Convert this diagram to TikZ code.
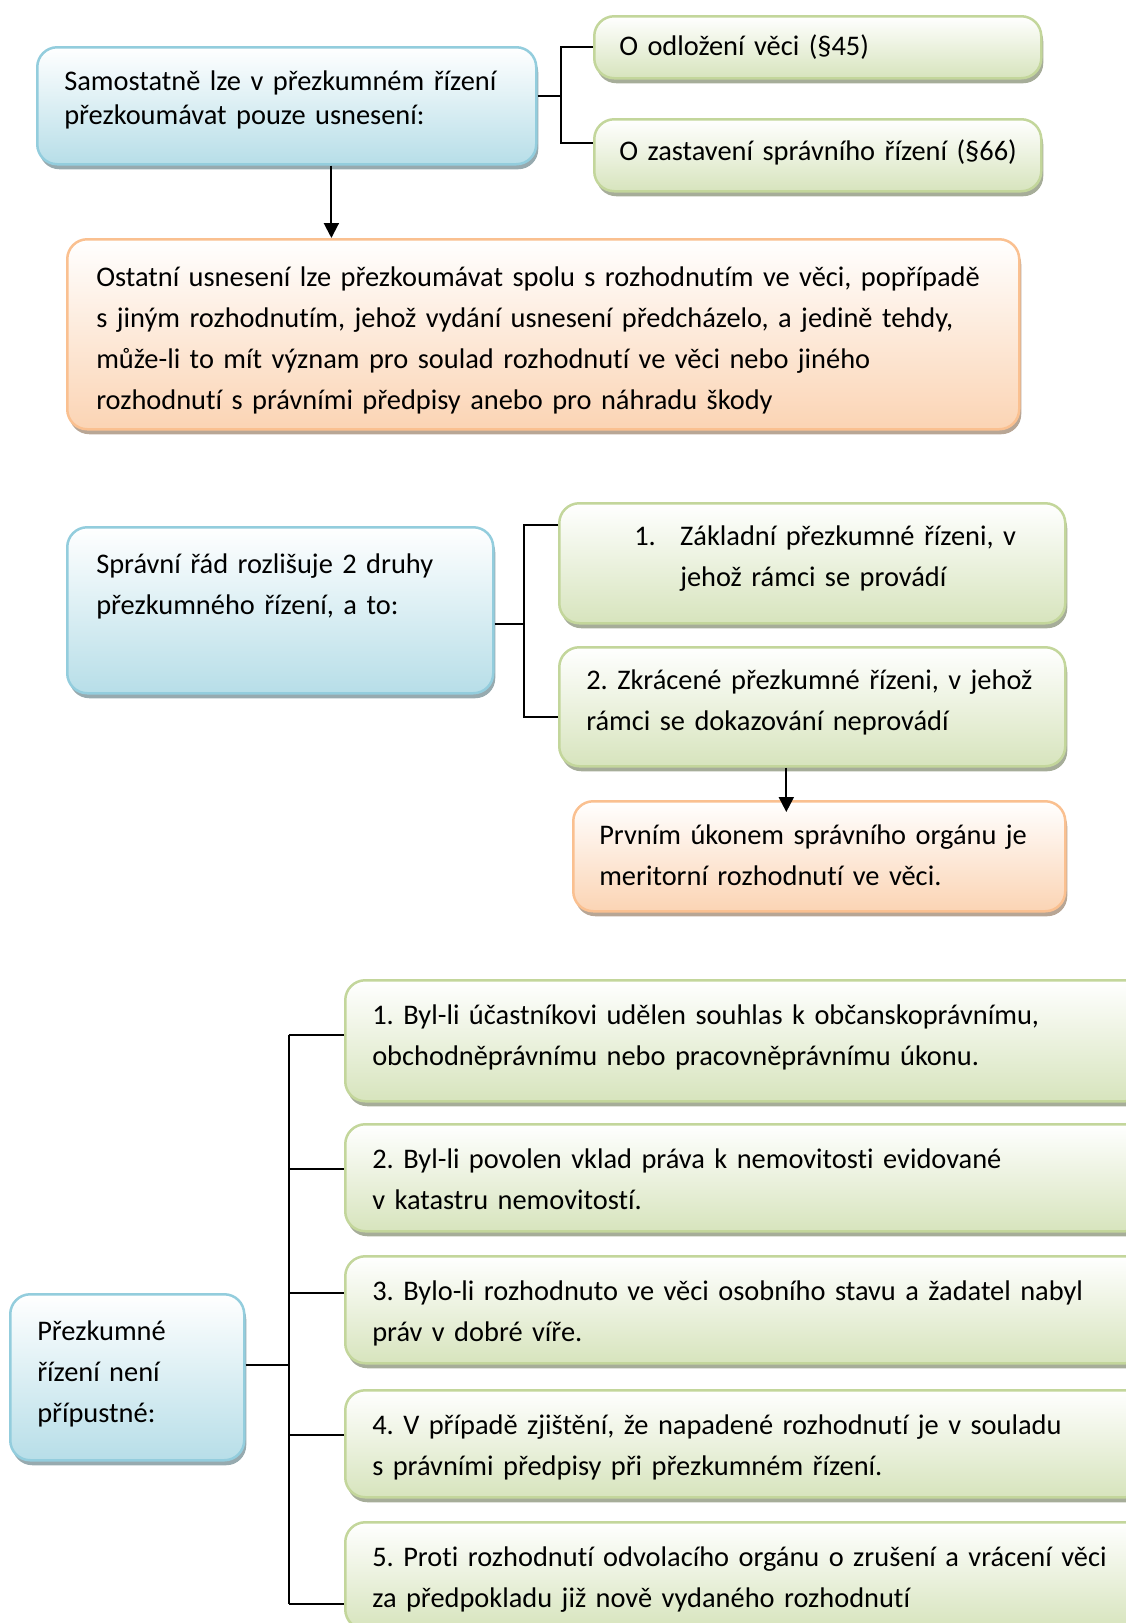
\documentclass[tikz,border=0pt]{standalone}
\usepackage{fontspec}
\setmainfont{Carlito}[Ligatures=NoCommon]
\usetikzlibrary{calc,shadows,arrows.meta}

\definecolor{blueline}{HTML}{93CDDD}
\definecolor{bluefill}{HTML}{B7DEE8}
\definecolor{greenline}{HTML}{C3D69B}
\definecolor{greenfill}{HTML}{D7E4BD}
\definecolor{orangeline}{HTML}{FAC090}
\definecolor{orangefill}{HTML}{FBD4B4}

\begin{document}
\frenchspacing
\begin{tikzpicture}[x=1pt,y=-1pt,
    card/.style={line width=2.5pt, rounded corners=20pt, anchor=north west, align=left,
      inner xsep=27pt, inner ysep=0pt, font=\fontsize{28.4}{41}\selectfont},
    bluecard/.style={card, draw=blueline, top color=white, bottom color=bluefill,
      drop shadow={shadow xshift=2pt, shadow yshift=-5pt, fill=blueline!55!black, opacity=.6}},
    greencard/.style={card, draw=greenline, top color=white, bottom color=greenfill,
      drop shadow={shadow xshift=2pt, shadow yshift=-5pt, fill=greenline!55!black, opacity=.6}},
    orangecard/.style={card, draw=orangeline, top color=white, bottom color=orangefill,
      drop shadow={shadow xshift=2pt, shadow yshift=-5pt, fill=orangeline!55!black, opacity=.6}},
    link/.style={line width=2pt},
    arr/.style={link, -{Triangle[length=15pt,width=15pt]}}]
    \useasboundingbox (0,0) rectangle (1126,1623);

    \node[bluecard, text width=445pt, text height=43.3pt, text depth=73.7pt,
      font=\fontsize{28.4}{34}\selectfont] (A) at (36,46)
      {Samostatně lze v přezkumném řízení\\přezkoumávat pouze usnesení:};
    \node[greencard, inner xsep=25pt, text width=397pt, text height=39.5pt, text depth=22.5pt] (B1) at (593,15)
      {O odložení věci (§45)};
    \node[greencard, inner xsep=25pt, text width=397pt, text height=41.5pt, text depth=30.5pt] (B2) at (593,118)
      {\mbox{O zastavení správního řízení (§66)}};
    \node[orangecard, inner xsep=29pt, text width=894pt, text height=47.5pt, text depth=142.5pt] (C) at (66,238)
      {Ostatní usnesení lze přezkoumávat spolu s rozhodnutím ve věci, popřípadě\\
       s jiným rozhodnutím, jehož vydání usnesení předcházelo, a jedině tehdy,\\
       může-li to mít význam pro soulad rozhodnutí ve věci nebo jiného\\
       rozhodnutí s právními předpisy anebo pro náhradu škody};

    \node[bluecard, inner xsep=29pt, text width=368pt, text height=46.5pt, text depth=119.5pt] (D) at (66,526)
      {Správní řád rozlišuje 2 druhy\\přezkumného řízení, a to:};
    \node[greencard, text width=452pt, text height=42.5pt, text depth=77.5pt] (E1) at (558,502)
      {\hspace*{48pt}\makebox[46pt][l]{1.}Základní přezkumné řízeni, v\\\hspace*{94pt}jehož rámci se provádí};
    \node[greencard, text width=452pt, text height=42.5pt, text depth=76.5pt] (E2) at (558,646)
      {2. Zkrácené přezkumné řízeni, v jehož\\rámci se dokazování neprovádí};
    \node[orangecard, inner xsep=26pt, text width=440pt, text height=43.5pt, text depth=66.5pt] (F) at (572,800)
      {Prvním úkonem správního orgánu je\\meritorní rozhodnutí ve věci.};

    \node[bluecard, text width=180pt, text height=46.5pt, text depth=119.5pt] (G) at (9,1293)
      {Přezkumné\\řízení není\\přípustné:};
    \foreach \i/\y/\d/\txt in {
        1/979/77/{1. Byl-li účastníkovi udělen souhlas k občanskoprávnímu,\\obchodněprávnímu nebo pracovněprávnímu úkonu.},
        2/1123/63/{2. Byl-li povolen vklad práva k nemovitosti evidované\\v katastru nemovitostí.},
        3/1255/63/{3. Bylo-li rozhodnuto ve věci osobního stavu a žadatel nabyl\\práv v dobré víře.},
        4/1389/63/{4. V případě zjištění, že napadené rozhodnutí je v souladu\\s právními předpisy při přezkumném řízení.},
        5/1521/63/{5. Proti rozhodnutí odvolacího orgánu o zrušení a vrácení věci\\za předpokladu již nově vydaného rozhodnutí}}
      \node[greencard, text width=746pt, text height=44pt, text depth=\d pt] (H\i) at (344,\y) {\txt};

    \coordinate (a1) at ($(A.north east)!0.416!(A.south east)$);
    \coordinate (b2) at ($(B2.north west)!0.34!(B2.south west)$);
    \draw[link] (a1) -- ++(23,0) coordinate (ab);
    \draw[link] (B1.west) -| (ab) |- (b2);
    \coordinate (a2) at ($(A.south west)!0.589!(A.south east)$);
    \draw[arr] (a2) -- (a2 |- C.north);

    \coordinate (d1) at ($(D.north east)!0.58!(D.south east)$);
    \coordinate (e1) at ($(E1.north west)!0.19!(E1.south west)$);
    \coordinate (e2) at ($(E2.north west)!0.585!(E2.south west)$);
    \draw[link] (d1) -- ++(29,0) coordinate (de);
    \draw[link] (e1) -| (de) |- (e2);
    \coordinate (e3) at ($(E2.south west)!0.449!(E2.south east)$);
    \draw[arr, shorten >=-12pt] (e3) -- (e3 |- F.north);

    \coordinate (g1) at ($(G.north east)!0.43!(G.south east)$);
    \draw[link] (g1) -- ++(43,0) coordinate (gh);
    \foreach \i/\f in {1/0.45, 2/0.42, 3/0.35, 4/0.42, 5/0.757} {
      \coordinate (h\i) at ($(H\i.north west)!\f!(H\i.south west)$);
      \draw[link] (gh |- h\i) -- (h\i);
    }
    \draw[link] (gh |- h1) -- (gh |- h5);
\end{tikzpicture}
\end{document}
